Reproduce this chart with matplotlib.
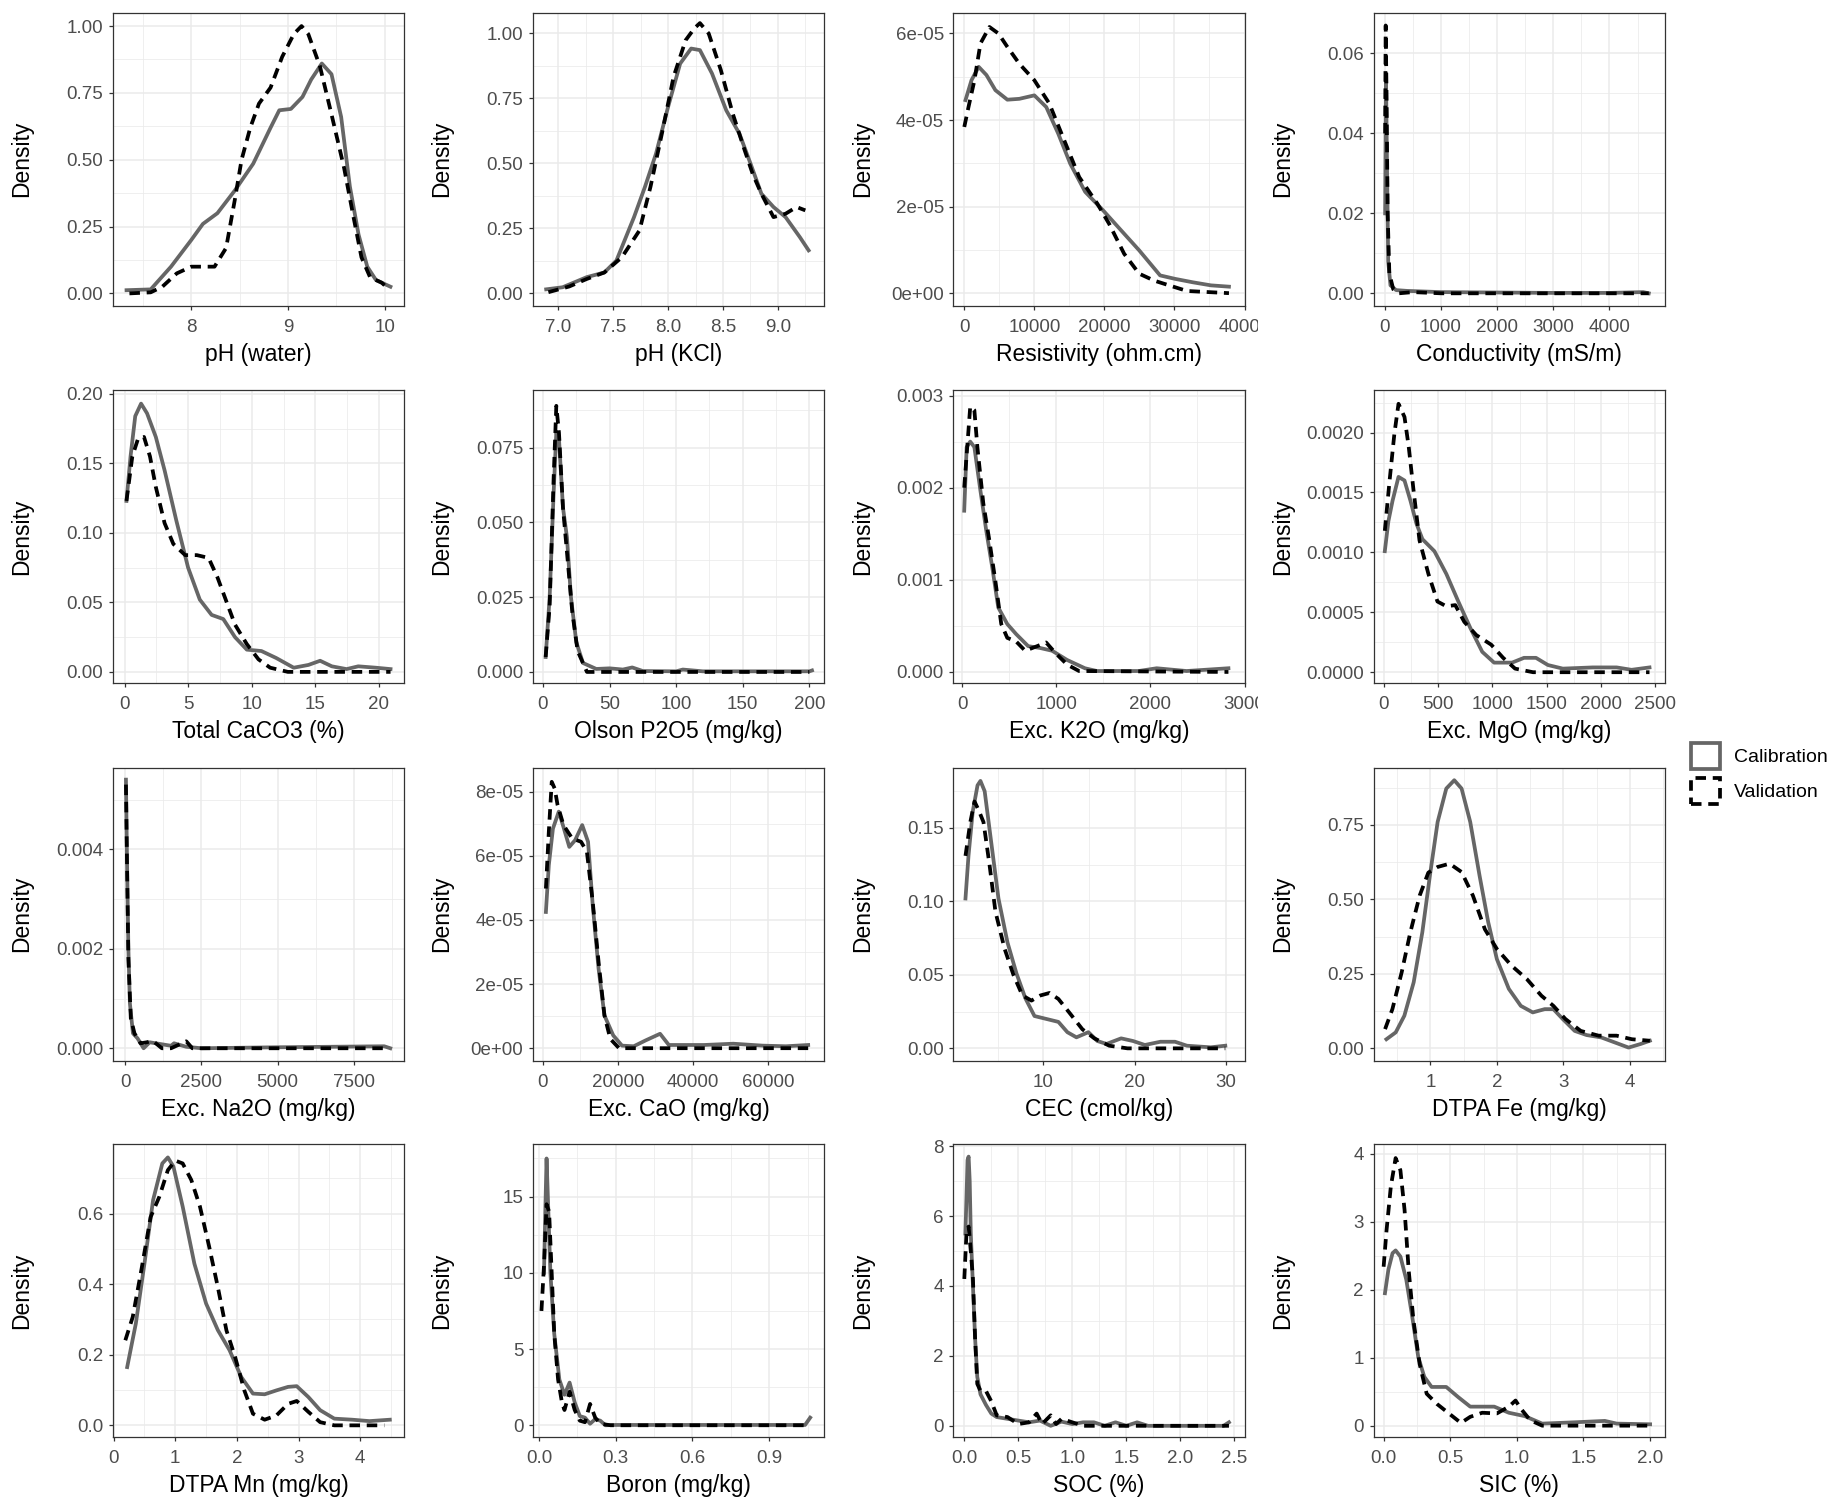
#!/usr/bin/env python3
"""
Density curves of soil properties, calibration vs validation sets
"""
import matplotlib
matplotlib.use("Agg")
import matplotlib.pyplot as plt
from matplotlib.patches import Patch
from matplotlib.ticker import AutoMinorLocator
from matplotlib.transforms import Bbox, TransformedBbox

plt.rcParams['font.family'] = ['Liberation Sans', 'DejaVu Sans']

# ---- data (x, density) ----
ph_water_cal_x = [7.33, 7.58, 7.79, 8.0, 8.12, 8.27, 8.45, 8.64, 8.82, 8.91, 9.03, 9.15, 9.24, 9.35, 9.45, 9.55, 9.64, 9.73, 9.82, 9.91, 10.06]
ph_water_cal_y = [0.012, 0.015, 0.10, 0.20, 0.26, 0.30, 0.385, 0.485, 0.62, 0.685, 0.69, 0.735, 0.80, 0.86, 0.82, 0.66, 0.40, 0.22, 0.10, 0.05, 0.025]
ph_water_val_x = [7.36, 7.58, 7.70, 7.85, 8.0, 8.24, 8.36, 8.45, 8.52, 8.61, 8.70, 8.82, 8.94, 9.06, 9.14, 9.21, 9.33, 9.45, 9.58, 9.67, 9.76, 9.85, 9.97, 10.03]
ph_water_val_y = [0.0, 0.004, 0.025, 0.075, 0.10, 0.10, 0.17, 0.35, 0.50, 0.62, 0.71, 0.77, 0.885, 0.97, 1.0, 0.97, 0.85, 0.67, 0.47, 0.30, 0.135, 0.06, 0.04, 0.02]

ph_kcl_cal_x = [6.89, 7.04, 7.26, 7.42, 7.53, 7.69, 7.79, 7.89, 8.0, 8.11, 8.21, 8.29, 8.4, 8.53, 8.65, 8.75, 8.85, 8.96, 9.07, 9.2, 9.28]
ph_kcl_cal_y = [0.015, 0.023, 0.062, 0.08, 0.126, 0.293, 0.41, 0.537, 0.717, 0.884, 0.942, 0.936, 0.846, 0.704, 0.614, 0.5, 0.383, 0.332, 0.293, 0.216, 0.165]
ph_kcl_val_x = [6.91, 7.1, 7.26, 7.42, 7.58, 7.74, 7.84, 7.95, 8.05, 8.16, 8.24, 8.29, 8.37, 8.48, 8.59, 8.69, 8.77, 8.85, 8.96, 9.07, 9.17, 9.25]
ph_kcl_val_y = [0.004, 0.026, 0.055, 0.08, 0.139, 0.242, 0.41, 0.627, 0.833, 0.974, 1.02, 1.04, 1.0, 0.86, 0.69, 0.56, 0.46, 0.383, 0.293, 0.306, 0.332, 0.319]

resist_cal_x = [170, 1030, 2050, 3160, 4440, 6150, 7860, 10000, 11700, 13400, 15130, 17260, 19830, 22390, 24960, 27950, 30090, 32650, 35210, 37780]
resist_cal_y = [4.46e-5, 4.92e-5, 5.23e-5, 5.04e-5, 4.69e-5, 4.47e-5, 4.49e-5, 4.57e-5, 4.30e-5, 3.69e-5, 2.99e-5, 2.34e-5, 1.91e-5, 1.45e-5, 0.99e-5, 0.41e-5, 0.33e-5, 0.25e-5, 0.18e-5, 0.15e-5]
resist_val_x = [0, 600, 1450, 2310, 3590, 4870, 6150, 7860, 10000, 12140, 14270, 16410, 18980, 20680, 22820, 24960, 27100, 29230, 31800, 37780]
resist_val_y = [3.84e-5, 4.3e-5, 4.92e-5, 5.77e-5, 6.15e-5, 6.0e-5, 5.69e-5, 5.30e-5, 4.92e-5, 4.38e-5, 3.53e-5, 2.68e-5, 2.07e-5, 1.60e-5, 0.91e-5, 0.45e-5, 0.29e-5, 0.18e-5, 0.05e-5, 0.0]

cond_cal_x = [5, 20, 40, 60, 100, 200, 400, 1000, 2000, 3000, 4000, 4600, 4700]
cond_cal_y = [0.02, 0.055, 0.03, 0.008, 0.002, 0.0008, 0.0006, 0.0003, 0.0002, 0.0001, 0.0001, 0.0003, 0.0]
cond_val_x = [5, 15, 30, 50, 80, 150, 250, 500, 1000, 4700]
cond_val_y = [0.04, 0.067, 0.05, 0.02, 0.005, 0.001, 0.0, 0.0003, 0.0, 0.0]

caco3_cal_x = [0.14, 0.46, 0.83, 1.29, 1.76, 2.45, 3.14, 4.06, 4.99, 5.91, 6.84, 7.76, 8.68, 9.61, 10.76, 11.92, 13.3, 14.46, 15.38, 16.3, 17.46, 18.38, 19.77, 20.92]
caco3_cal_y = [0.123, 0.155, 0.184, 0.193, 0.186, 0.169, 0.145, 0.109, 0.075, 0.052, 0.041, 0.038, 0.025, 0.016, 0.015, 0.010, 0.003, 0.005, 0.008, 0.004, 0.002, 0.004, 0.003, 0.002]
caco3_val_x = [0.14, 0.6, 1.06, 1.52, 1.99, 2.45, 3.14, 3.83, 4.76, 5.68, 6.6, 7.3, 7.99, 8.68, 9.61, 10.53, 11.45, 12.84, 20.92]
caco3_val_y = [0.123, 0.155, 0.168, 0.169, 0.155, 0.133, 0.107, 0.092, 0.084, 0.084, 0.082, 0.068, 0.051, 0.034, 0.020, 0.009, 0.003, 0.0, 0.0]

p2o5_cal_x = [2, 5, 8, 10, 12, 15, 18, 21, 25, 30, 40, 50, 60, 67, 75, 100, 105, 120, 200, 202]
p2o5_cal_y = [0.005, 0.025, 0.06, 0.080, 0.078, 0.055, 0.045, 0.025, 0.01, 0.003, 0.001, 0.0012, 0.0008, 0.0015, 0.0003, 0.0002, 0.0008, 0.0002, 0.0002, 0.0005]
p2o5_val_x = [2, 5, 8, 10, 12, 15, 18, 22, 26, 33, 200]
p2o5_val_y = [0.005, 0.022, 0.065, 0.089, 0.08, 0.055, 0.04, 0.02, 0.007, 0.0, 0.0]

k2o_cal_x = [19, 45, 83, 127, 191, 254, 318, 381, 477, 572, 699, 826, 954, 1113, 1303, 1430, 1875, 2066, 2384, 2829]
k2o_cal_y = [0.00175, 0.00244, 0.0025, 0.00244, 0.00197, 0.00153, 0.00113, 0.0007, 0.00052, 0.00041, 0.00028, 0.00026, 0.00023, 0.00013, 0.00004, 0.00001, 0.00001, 0.00004, 0.00001, 0.00004]
k2o_val_x = [19, 51, 83, 127, 159, 222, 286, 350, 413, 477, 572, 667, 795, 890, 985, 1113, 1240, 2829]
k2o_val_y = [0.002, 0.00244, 0.00288, 0.00284, 0.00244, 0.00183, 0.00143, 0.00099, 0.00052, 0.00037, 0.00033, 0.00023, 0.00028, 0.00032, 0.00021, 0.00008, 0.00001, 0.0]

mgo_cal_x = [11, 44, 82, 137, 192, 247, 302, 357, 467, 577, 687, 797, 907, 1016, 1181, 1291, 1401, 1511, 1648, 1923, 2143, 2280, 2445]
mgo_cal_y = [0.00101, 0.00126, 0.00143, 0.00163, 0.0016, 0.00143, 0.00124, 0.00111, 0.00101, 0.00082, 0.00059, 0.00037, 0.00017, 0.00008, 0.00008, 0.00012, 0.00012, 0.00006, 0.00003, 0.00004, 0.00004, 0.00002, 0.00004]
mgo_val_x = [11, 55, 99, 137, 192, 231, 275, 330, 412, 495, 577, 659, 742, 852, 989, 1099, 1209, 1374, 2445]
mgo_val_y = [0.00118, 0.0016, 0.00199, 0.00224, 0.00213, 0.00188, 0.00152, 0.0011, 0.00082, 0.00059, 0.00055, 0.00056, 0.00042, 0.00031, 0.00023, 0.00012, 0.00003, 0.0, 0.0]

na2o_cal_x = [20, 50, 100, 150, 250, 400, 600, 800, 1000, 1500, 1600, 2000, 2500, 5000, 8500, 8700]
na2o_cal_y = [0.0054, 0.004, 0.002, 0.0009, 0.0003, 0.0002, 0.0, 0.00012, 0.0001, 0.00005, 0.0001, 0.00003, 0.0, 0.00002, 0.00004, 0.0]
na2o_val_x = [20, 60, 100, 180, 300, 500, 700, 900, 1200, 1500, 2000, 2200, 8600]
na2o_val_y = [0.0053, 0.0035, 0.0018, 0.0006, 0.0003, 0.0001, 0.00012, 0.00015, 0.0, 0.0, 0.00014, 0.0, 0.0]

cao_cal_x = [780, 1560, 2660, 4220, 5470, 7030, 8590, 10470, 12030, 13280, 14840, 16410, 18750, 21090, 24220, 27340, 31250, 33590, 42970, 50780, 58590, 64840, 70780]
cao_cal_y = [4.25e-5, 5.71e-5, 6.85e-5, 7.38e-5, 6.9e-5, 6.28e-5, 6.49e-5, 6.96e-5, 6.44e-5, 4.46e-5, 2.48e-5, 1.02e-5, 0.40e-5, 0.08e-5, 0.06e-5, 0.24e-5, 0.45e-5, 0.1e-5, 0.1e-5, 0.14e-5, 0.08e-5, 0.06e-5, 0.1e-5]
cao_val_x = [780, 1560, 2340, 3130, 3910, 5470, 7810, 10160, 11720, 13280, 14840, 16410, 17970, 20310, 70780]
cao_val_y = [4.98e-5, 6.75e-5, 8.31e-5, 8.1e-5, 7.58e-5, 6.96e-5, 6.54e-5, 6.44e-5, 6.13e-5, 4.56e-5, 2.69e-5, 1.02e-5, 0.29e-5, 0.0, 0.0]

cec_cal_x = [1.47, 1.8, 2.26, 2.79, 3.11, 3.57, 4.23, 5.08, 6.07, 7.05, 8.03, 9.02, 10.33, 11.64, 12.62, 13.61, 14.92, 15.9, 16.9, 18.5, 19.8, 21.1, 22.8, 24.4, 25.7, 28.3, 29.9]
cec_cal_y = [0.102, 0.131, 0.161, 0.179, 0.182, 0.175, 0.143, 0.102, 0.072, 0.051, 0.034, 0.022, 0.020, 0.018, 0.011, 0.0075, 0.011, 0.005, 0.003, 0.0068, 0.005, 0.0023, 0.0045, 0.0045, 0.0018, 0.0007, 0.0018]
cec_val_x = [1.47, 2.0, 2.46, 2.92, 3.44, 4.1, 4.75, 5.74, 6.72, 7.70, 8.69, 9.67, 10.66, 11.64, 12.95, 14.26, 15.57, 17.2, 19.2, 29.9]
cec_val_y = [0.131, 0.154, 0.168, 0.162, 0.154, 0.125, 0.093, 0.068, 0.050, 0.036, 0.0325, 0.036, 0.0377, 0.0336, 0.0234, 0.013, 0.0068, 0.0018, 0.0, 0.0]

fe_cal_x = [0.34, 0.48, 0.61, 0.75, 0.88, 1.0, 1.11, 1.24, 1.36, 1.47, 1.6, 1.74, 1.87, 2.0, 2.18, 2.36, 2.54, 2.72, 2.85, 2.99, 3.17, 3.35, 3.57, 3.80, 3.98, 4.16, 4.30]
fe_cal_y = [0.031, 0.054, 0.11, 0.222, 0.39, 0.59, 0.76, 0.872, 0.90, 0.872, 0.76, 0.58, 0.424, 0.30, 0.20, 0.143, 0.121, 0.132, 0.132, 0.099, 0.059, 0.045, 0.037, 0.018, 0.003, 0.015, 0.026]
fe_val_x = [0.32, 0.43, 0.57, 0.7, 0.84, 0.97, 1.11, 1.29, 1.47, 1.64, 1.82, 2.0, 2.22, 2.45, 2.67, 2.85, 3.03, 3.26, 3.53, 3.80, 4.03, 4.30]
fe_val_y = [0.065, 0.132, 0.256, 0.39, 0.513, 0.59, 0.609, 0.62, 0.592, 0.513, 0.40, 0.334, 0.278, 0.233, 0.177, 0.143, 0.099, 0.059, 0.043, 0.043, 0.031, 0.026]

mn_cal_x = [0.22, 0.36, 0.5, 0.64, 0.79, 0.88, 0.97, 1.12, 1.31, 1.5, 1.69, 1.88, 2.07, 2.26, 2.45, 2.64, 2.83, 2.97, 3.16, 3.35, 3.58, 3.87, 4.15, 4.48]
mn_cal_y = [0.165, 0.288, 0.458, 0.638, 0.742, 0.759, 0.733, 0.62, 0.458, 0.345, 0.27, 0.213, 0.137, 0.09, 0.088, 0.099, 0.109, 0.111, 0.08, 0.043, 0.019, 0.016, 0.012, 0.016]
mn_val_x = [0.19, 0.31, 0.45, 0.6, 0.74, 0.88, 1.0, 1.12, 1.26, 1.4, 1.55, 1.69, 1.83, 1.97, 2.12, 2.26, 2.45, 2.64, 2.83, 2.97, 3.16, 3.35, 3.58, 4.39]
mn_val_y = [0.241, 0.307, 0.44, 0.59, 0.647, 0.723, 0.75, 0.742, 0.695, 0.62, 0.506, 0.392, 0.269, 0.194, 0.099, 0.033, 0.016, 0.028, 0.061, 0.069, 0.038, 0.009, 0.0, 0.0]

boron_cal_x = [0.02, 0.025, 0.03, 0.035, 0.045, 0.06, 0.08, 0.1, 0.12, 0.14, 0.16, 0.18, 0.2, 0.22, 0.24, 0.26, 0.3, 1.0, 1.04, 1.06]
boron_cal_y = [10, 14, 17.5, 15, 10, 6, 3, 2, 2.8, 1.5, 0.6, 0.5, 0.1, 0.4, 0.3, 0.0, 0.02, 0.02, 0.02, 0.5]
boron_val_x = [0.01, 0.02, 0.03, 0.04, 0.05, 0.06, 0.075, 0.09, 0.1, 0.12, 0.14, 0.16, 0.18, 0.2, 0.22, 0.24, 0.28, 1.05]
boron_val_y = [7.5, 10.5, 14.5, 14, 10, 6, 3, 1.5, 1.0, 2.2, 1.0, 0.3, 0.2, 1.4, 0.5, 0.1, 0.0, 0.0]

soc_cal_x = [0.01, 0.02, 0.03, 0.04, 0.05, 0.06, 0.08, 0.1, 0.12, 0.15, 0.2, 0.25, 0.3, 0.4, 0.5, 0.6, 0.7, 0.8, 0.9, 1.0, 1.1, 1.2, 1.3, 1.4, 1.5, 1.6, 1.7, 2.4, 2.45]
soc_cal_y = [5.5, 6.5, 7.6, 7.7, 7.0, 5.5, 4.0, 2.5, 1.4, 0.9, 0.6, 0.35, 0.25, 0.2, 0.15, 0.1, 0.15, 0.0, 0.12, 0.05, 0.1, 0.1, 0.0, 0.1, 0.0, 0.1, 0.0, 0.0, 0.1]
soc_val_x = [0.0, 0.02, 0.04, 0.06, 0.08, 0.1, 0.12, 0.15, 0.2, 0.25, 0.3, 0.4, 0.5, 0.6, 0.67, 0.72, 0.8, 0.85, 0.9, 1.0, 1.1, 2.45]
soc_val_y = [4.2, 5.5, 5.7, 5.0, 4.2, 2.5, 1.2, 1.0, 1.0, 0.7, 0.3, 0.25, 0.05, 0.1, 0.35, 0.05, 0.3, 0.05, 0.2, 0.1, 0.0, 0.0]

sic_cal_x = [0.01, 0.036, 0.067, 0.09, 0.126, 0.17, 0.215, 0.26, 0.305, 0.36, 0.47, 0.56, 0.65, 0.83, 0.94, 1.06, 1.19, 1.44, 1.66, 1.75, 2.0]
sic_cal_y = [1.95, 2.3, 2.54, 2.58, 2.49, 2.15, 1.6, 1.01, 0.72, 0.57, 0.57, 0.42, 0.28, 0.28, 0.19, 0.14, 0.03, 0.05, 0.07, 0.03, 0.02]
sic_val_x = [0.0, 0.022, 0.054, 0.09, 0.126, 0.157, 0.188, 0.224, 0.27, 0.323, 0.40, 0.49, 0.58, 0.65, 0.74, 0.85, 0.94, 0.99, 1.03, 1.1, 1.19, 2.0]
sic_val_y = [2.34, 2.88, 3.52, 3.94, 3.76, 3.18, 2.29, 1.55, 0.91, 0.47, 0.32, 0.18, 0.04, 0.13, 0.19, 0.18, 0.28, 0.37, 0.25, 0.08, 0.0, 0.0]

x_titles = ["pH (water)", "pH (KCl)", "Resistivity (ohm.cm)", "Conductivity (mS/m)",
            "Total CaCO3 (%)", "Olson P2O5 (mg/kg)", "Exc. K2O (mg/kg)", "Exc. MgO (mg/kg)",
            "Exc. Na2O (mg/kg)", "Exc. CaO (mg/kg)", "CEC (cmol/kg)", "DTPA Fe (mg/kg)",
            "DTPA Mn (mg/kg)", "Boron (mg/kg)", "SOC (%)", "SIC (%)"]

series = [
    (ph_water_cal_x, ph_water_cal_y, ph_water_val_x, ph_water_val_y),
    (ph_kcl_cal_x, ph_kcl_cal_y, ph_kcl_val_x, ph_kcl_val_y),
    (resist_cal_x, resist_cal_y, resist_val_x, resist_val_y),
    (cond_cal_x, cond_cal_y, cond_val_x, cond_val_y),
    (caco3_cal_x, caco3_cal_y, caco3_val_x, caco3_val_y),
    (p2o5_cal_x, p2o5_cal_y, p2o5_val_x, p2o5_val_y),
    (k2o_cal_x, k2o_cal_y, k2o_val_x, k2o_val_y),
    (mgo_cal_x, mgo_cal_y, mgo_val_x, mgo_val_y),
    (na2o_cal_x, na2o_cal_y, na2o_val_x, na2o_val_y),
    (cao_cal_x, cao_cal_y, cao_val_x, cao_val_y),
    (cec_cal_x, cec_cal_y, cec_val_x, cec_val_y),
    (fe_cal_x, fe_cal_y, fe_val_x, fe_val_y),
    (mn_cal_x, mn_cal_y, mn_val_x, mn_val_y),
    (boron_cal_x, boron_cal_y, boron_val_x, boron_val_y),
    (soc_cal_x, soc_cal_y, soc_val_x, soc_val_y),
    (sic_cal_x, sic_cal_y, sic_val_x, sic_val_y),
]

x_ticks = [
    [8, 9, 10], [7.0, 7.5, 8.0, 8.5, 9.0], [0, 10000, 20000, 30000, 40000], [0, 1000, 2000, 3000, 4000],
    [0, 5, 10, 15, 20], [0, 50, 100, 150, 200], [0, 1000, 2000, 3000], [0, 500, 1000, 1500, 2000, 2500],
    [0, 2500, 5000, 7500], [0, 20000, 40000, 60000], [10, 20, 30], [1, 2, 3, 4],
    [0, 1, 2, 3, 4], [0.0, 0.3, 0.6, 0.9], [0.0, 0.5, 1.0, 1.5, 2.0, 2.5], [0.0, 0.5, 1.0, 1.5, 2.0],
]
x_tick_labels = [
    ["8", "9", "10"], ["7.0", "7.5", "8.0", "8.5", "9.0"], ["0", "10000", "20000", "30000", "40000"],
    ["0", "1000", "2000", "3000", "4000"],
    ["0", "5", "10", "15", "20"], ["0", "50", "100", "150", "200"], ["0", "1000", "2000", "3000"],
    ["0", "500", "1000", "1500", "2000", "2500"],
    ["0", "2500", "5000", "7500"], ["0", "20000", "40000", "60000"], ["10", "20", "30"], ["1", "2", "3", "4"],
    ["0", "1", "2", "3", "4"], ["0.0", "0.3", "0.6", "0.9"], ["0.0", "0.5", "1.0", "1.5", "2.0", "2.5"],
    ["0.0", "0.5", "1.0", "1.5", "2.0"],
]
y_ticks = [
    [0, 0.25, 0.5, 0.75, 1.0], [0, 0.25, 0.5, 0.75, 1.0], [0, 2e-5, 4e-5, 6e-5], [0, 0.02, 0.04, 0.06],
    [0, 0.05, 0.1, 0.15, 0.2], [0, 0.025, 0.05, 0.075], [0, 0.001, 0.002, 0.003], [0, 0.0005, 0.001, 0.0015, 0.002],
    [0, 0.002, 0.004], [0, 2e-5, 4e-5, 6e-5, 8e-5], [0, 0.05, 0.1, 0.15], [0, 0.25, 0.5, 0.75],
    [0, 0.2, 0.4, 0.6], [0, 5, 10, 15], [0, 2, 4, 6, 8], [0, 1, 2, 3, 4],
]
y_tick_labels = [
    ["0.00", "0.25", "0.50", "0.75", "1.00"], ["0.00", "0.25", "0.50", "0.75", "1.00"],
    ["0e+00", "2e-05", "4e-05", "6e-05"], ["0.00", "0.02", "0.04", "0.06"],
    ["0.00", "0.05", "0.10", "0.15", "0.20"], ["0.000", "0.025", "0.050", "0.075"],
    ["0.000", "0.001", "0.002", "0.003"], ["0.0000", "0.0005", "0.0010", "0.0015", "0.0020"],
    ["0.000", "0.002", "0.004"], ["0e+00", "2e-05", "4e-05", "6e-05", "8e-05"],
    ["0.00", "0.05", "0.10", "0.15"], ["0.00", "0.25", "0.50", "0.75"],
    ["0.0", "0.2", "0.4", "0.6"], ["0", "5", "10", "15"], ["0", "2", "4", "6", "8"], ["0", "1", "2", "3", "4"],
]
x_limits = [
    (7.19, 10.2), (6.77, 9.42), (-1540, 39900), (-202, 4980),
    (-0.92, 21.98), (-7.5, 211), (-95, 2988), (-93, 2583),
    (-405, 9150), (-2660, 75000), (0.16, 32.0), (0.146, 4.52),
    (-0.01, 4.71), (-0.023, 1.114), (-0.1, 2.594), (-0.076, 2.108),
]
y_limits = [
    (-0.046, 1.05), (-0.048, 1.08), (-0.29e-5, 6.48e-5), (-0.0031, 0.0702),
    (-0.008, 0.2028), (-0.0037, 0.0943), (-0.00012, 0.00306), (-0.00009, 0.002355),
    (-0.00025, 0.00564), (-0.39e-5, 8.75e-5), (-0.0084, 0.191), (-0.041, 0.942),
    (-0.033, 0.797), (-0.77, 18.45), (-0.32, 8.06), (-0.167, 4.147),
]

W, H = 1836, 1509
col_left = [113, 533, 953.5, 1373.5]
row_top = [12.7, 390, 767.7, 1144]
panel_w, panel_h = 291, 293

cal_color = "#666666"
dash = (0, (2.8, 1.8))

fig = plt.figure(figsize=(W / 100, H / 100), dpi=100)

for i in range(16):
    r, c = divmod(i, 4)
    ax = fig.add_axes([col_left[c] / W, 1 - (row_top[r] + panel_h) / H, panel_w / W, panel_h / H])
    cx, cy, vx, vy = series[i]
    ax.plot(cx, cy, color=cal_color, lw=2.7, solid_joinstyle="round", zorder=3)
    ax.plot(vx, vy, color="black", lw=2.7, linestyle=dash, zorder=4)

    ax.set_xlim(*x_limits[i])
    ax.set_ylim(*y_limits[i])
    ax.set_xticks(x_ticks[i])
    ax.set_xticklabels(x_tick_labels[i])
    ax.set_yticks(y_ticks[i])
    ax.set_yticklabels(y_tick_labels[i])
    ax.xaxis.set_minor_locator(AutoMinorLocator(2))
    ax.yaxis.set_minor_locator(AutoMinorLocator(2))

    ax.grid(which="major", color="#EBEBEB", lw=1.1)
    ax.grid(which="minor", color="#EBEBEB", lw=0.55)
    ax.set_axisbelow(True)
    for s in ax.spines.values():
        s.set_color("#333333")
        s.set_linewidth(0.9)
    ax.tick_params(which="major", length=3, width=0.9, color="#333333", pad=4,
                   labelsize=13.5, labelcolor="#4D4D4D")
    ax.tick_params(axis="x", which="major", pad=6.5)
    ax.tick_params(which="minor", length=0)

    ax.set_xlabel(x_titles[i], fontsize=16.5, va="center")
    ax.xaxis.set_label_coords(0.5, -0.167)
    ax.set_ylabel("Density", fontsize=16.5, va="center")
    ax.yaxis.set_label_coords(-0.313, 0.5)

    if c == 2:
        # right-most tick label is cut at the cell edge in the original
        clip = TransformedBbox(Bbox([[0, 0], [1258 / W, 1]]), fig.transFigure)
        for t in ax.get_xticklabels():
            t.set_clip_box(clip)
            t.set_clip_on(True)

handles = [
    Patch(facecolor="white", edgecolor=cal_color, lw=2.7),
    Patch(facecolor="white", edgecolor="black", lw=2.7, linestyle=dash),
]
fig.legend(handles, ["Calibration", "Validation"], loc="center left",
           bbox_to_anchor=(1691 / W, 1 - 773.5 / H), frameon=False, fontsize=14,
           handlelength=1.5, handleheight=1.7, handletextpad=0.7,
           labelspacing=0.45, borderpad=0, borderaxespad=0)

fig.savefig("out.png", dpi=100)
